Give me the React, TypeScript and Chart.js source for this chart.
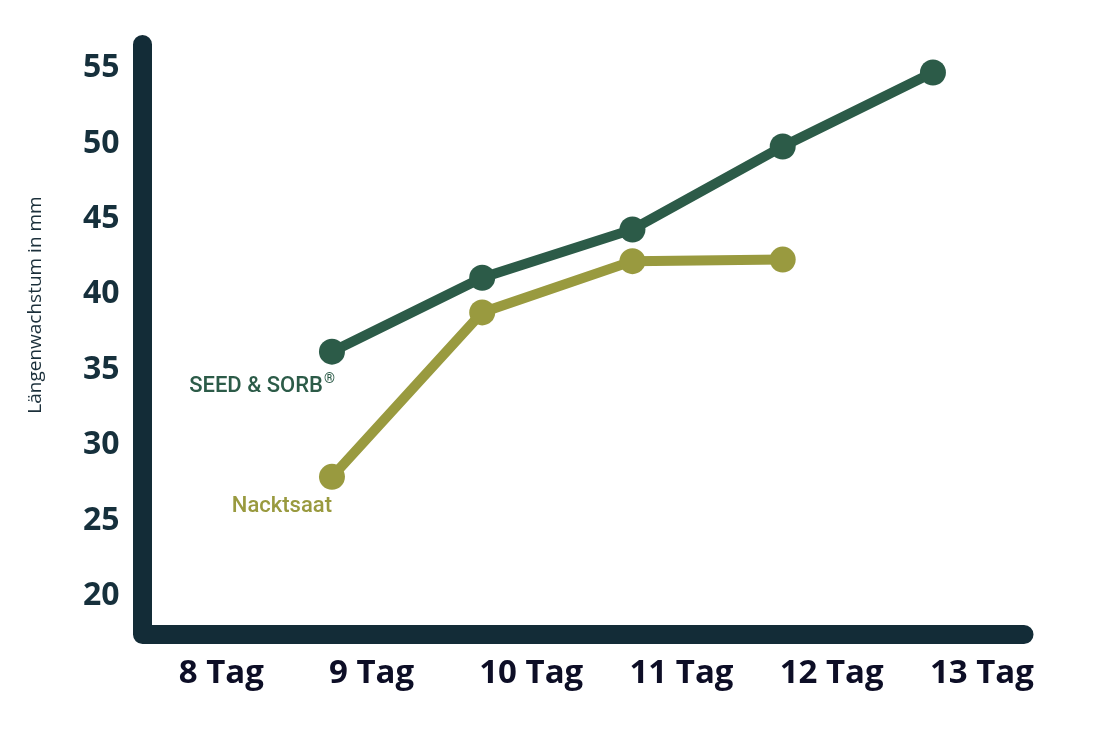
import { useEffect, useRef } from 'react'
import { Chart, registerables } from 'chart.js'

Chart.register(...registerables)

// days on the x axis, values in mm
const dayTicks = [8, 9, 10, 11, 12, 13]
const seedDays = [9, 10, 11, 12, 13]
const seedValues = [36.0, 40.9, 44.1, 49.6, 54.5]
const nacktDays = [9, 10, 11, 12]
const nacktValues = [27.7, 38.6, 42.0, 42.1]
const mmTicks = [20, 25, 30, 35, 40, 45, 50, 55]
const seriesNames = ['SEED & SORB', 'Nacktsaat']
const yTitle = 'Längenwachstum in mm'

const AXIS = '#132c37'
const YTICK = '#16303c'
const XTICK = '#0d0e26'
const SEED = '#2c5b48'
const NACKT = '#999a3f'

const framePlugin = {
  id: 'frame',
  beforeDatasetsDraw(chart: any) {
    const { ctx, chartArea: a } = chart
    ctx.save()
    ctx.strokeStyle = AXIS
    ctx.lineWidth = 19
    ctx.lineCap = 'round'
    ctx.lineJoin = 'round'
    ctx.beginPath()
    ctx.moveTo(a.left, a.top)
    ctx.lineTo(a.left, a.bottom)
    ctx.lineTo(a.right, a.bottom)
    ctx.stroke()

    // rotated axis title
    ctx.translate(36, 305)
    ctx.rotate(-Math.PI / 2)
    ctx.fillStyle = '#1b2f3a'
    ctx.font = '400 19px "Open Sans"'
    ctx.textAlign = 'center'
    ctx.textBaseline = 'middle'
    ctx.fillText(yTitle, 0, 0)
    ctx.restore()
  },
  afterDatasetsDraw(chart: any) {
    const { ctx } = chart
    ctx.save()
    ctx.textBaseline = 'alphabetic'

    // SEED & SORB® under its first point
    const p0 = chart.getDatasetMeta(0).data[0]
    ctx.font = '500 22px Roboto'
    const mainW = ctx.measureText(seriesNames[0]).width
    ctx.font = '500 14px Roboto'
    const regW = ctx.measureText('®').width
    const right0 = p0.x + 3
    const base0 = p0.y + 40
    ctx.fillStyle = SEED
    ctx.textAlign = 'left'
    ctx.font = '500 22px Roboto'
    ctx.fillText(seriesNames[0], right0 - mainW - regW - 1, base0)
    ctx.font = '500 14px Roboto'
    ctx.fillText('®', right0 - regW, base0 - 9)

    // Nacktsaat
    const p1 = chart.getDatasetMeta(1).data[0]
    ctx.fillStyle = NACKT
    ctx.textAlign = 'right'
    ctx.font = '500 22px Roboto'
    ctx.fillText(seriesNames[1], p1.x, p1.y + 35)
    ctx.restore()
  },
}

export default function App() {
  const canvasRef = useRef<HTMLCanvasElement>(null)
  const chartRef = useRef<Chart | null>(null)

  useEffect(() => {
    document.body.style.margin = '0'
    if (!canvasRef.current) return
    if (chartRef.current) chartRef.current.destroy()

    chartRef.current = new Chart(canvasRef.current, {
      type: 'line',
      data: {
        datasets: [
          {
            label: seriesNames[0],
            data: seedDays.map((d, i) => ({ x: d, y: seedValues[i] })),
            borderColor: SEED,
            backgroundColor: SEED,
            pointBackgroundColor: SEED,
            borderWidth: 10,
            pointRadius: 13,
            pointHoverRadius: 13,
            pointBorderWidth: 0,
            tension: 0,
            clip: false,
          },
          {
            label: seriesNames[1],
            data: nacktDays.map((d, i) => ({ x: d, y: nacktValues[i] })),
            borderColor: NACKT,
            backgroundColor: NACKT,
            pointBackgroundColor: NACKT,
            borderWidth: 10,
            pointRadius: 13,
            pointHoverRadius: 13,
            pointBorderWidth: 0,
            tension: 0,
            clip: false,
          },
        ],
      },
      options: {
        animation: false,
        responsive: true,
        maintainAspectRatio: false,
        layout: { padding: { top: 44.5, right: 76, left: 0, bottom: 0 } },
        plugins: {
          legend: { display: false },
          tooltip: { enabled: false },
        },
        scales: {
          x: {
            type: 'linear',
            min: 7.739,
            max: 13.606,
            grid: { display: false, drawTicks: false },
            border: { display: false },
            afterBuildTicks: (s: any) => {
              s.ticks = dayTicks.map((v) => ({ value: v }))
            },
            afterFit: (s: any) => {
              s.height = 103.5
            },
            ticks: {
              align: 'start',
              labelOffset: -3,
              padding: 19,
              autoSkip: false,
              maxRotation: 0,
              color: XTICK,
              font: { family: '"Open Sans"', size: 33, weight: 'bold' },
              callback: (v: any) => `${v} Tag`,
            },
          },
          y: {
            type: 'linear',
            min: 17.25,
            max: 56.36,
            grid: { display: false, drawTicks: false },
            border: { display: false },
            afterBuildTicks: (s: any) => {
              s.ticks = mmTicks.map((v) => ({ value: v }))
            },
            afterFit: (s: any) => {
              s.width = 142.5
            },
            ticks: {
              padding: 23,
              labelOffset: 3,
              color: YTICK,
              font: { family: '"Open Sans"', size: 32, weight: 'bold' },
            },
          },
        },
      },
      plugins: [framePlugin],
    } as any)

    return () => {
      if (chartRef.current) {
        chartRef.current.destroy()
        chartRef.current = null
      }
    }
  }, [])

  return (
    <div style={{ width: 1100, height: 738, position: 'relative', background: '#fff' }}>
      <canvas ref={canvasRef} />
    </div>
  )
}
